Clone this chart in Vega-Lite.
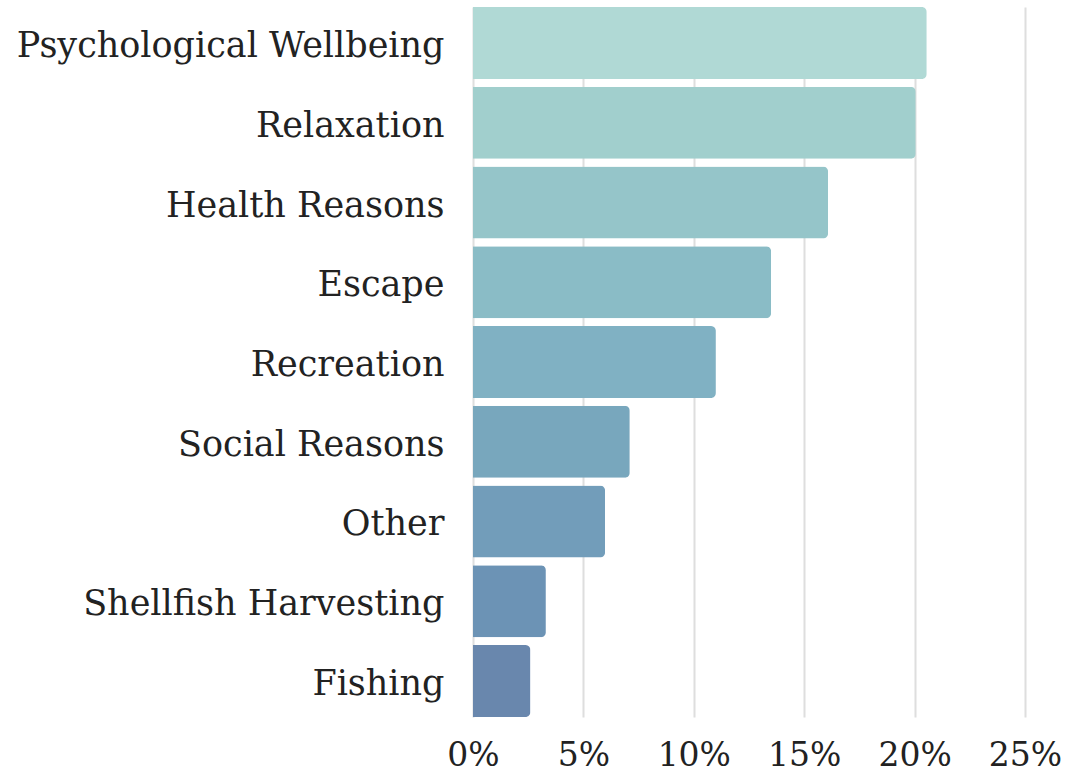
{
  "$schema": "https://vega.github.io/schema/vega-lite/v6.json",
  "width": 552,
  "height": 710,
  "autosize": {"type": "none"},
  "padding": {"left": 473, "top": 7, "right": 43, "bottom": 61},
  "background": "white",
  "config": {"view": {"stroke": null}},
  "data": {
    "values": [
      {"reason": "Psychological Wellbeing", "pct": 0.2055, "color": "#b0d9d5"},
      {"reason": "Relaxation", "pct": 0.2005, "color": "#a1cfcd"},
      {"reason": "Health Reasons", "pct": 0.1608, "color": "#95c5c9"},
      {"reason": "Escape", "pct": 0.135, "color": "#8abcc6"},
      {"reason": "Recreation", "pct": 0.11, "color": "#80b1c3"},
      {"reason": "Social Reasons", "pct": 0.071, "color": "#78a7bd"},
      {"reason": "Other", "pct": 0.0598, "color": "#729dba"},
      {"reason": "Shellfish Harvesting", "pct": 0.033, "color": "#6c93b5"},
      {"reason": "Fishing", "pct": 0.026, "color": "#6987ad"}
    ]
  },
  "mark": {"type": "bar", "cornerRadiusEnd": 5},
  "encoding": {
    "y": {
      "field": "reason",
      "type": "nominal",
      "sort": null,
      "scale": {"paddingInner": 0.097, "paddingOuter": 0},
      "axis": {
        "title": null,
        "domain": false,
        "ticks": false,
        "labelFont": "DejaVu Serif",
        "labelFontSize": 35,
        "labelColor": "#222222",
        "labelPadding": 29,
        "labelOffset": 3,
        "labelLimit": 500
      }
    },
    "x": {
      "field": "pct",
      "type": "quantitative",
      "scale": {"domain": [0, 0.25], "nice": false},
      "axis": {
        "title": null,
        "format": ".0%",
        "values": [0, 0.05, 0.1, 0.15, 0.2, 0.25],
        "domain": false,
        "ticks": false,
        "grid": true,
        "gridColor": "#dedede",
        "gridWidth": 2,
        "labelFont": "DejaVu Serif",
        "labelFontSize": 33,
        "labelColor": "#222222",
        "labelPadding": 22,
        "labelFlush": false
      }
    },
    "color": {"field": "color", "type": "nominal", "scale": null, "legend": null}
  }
}
